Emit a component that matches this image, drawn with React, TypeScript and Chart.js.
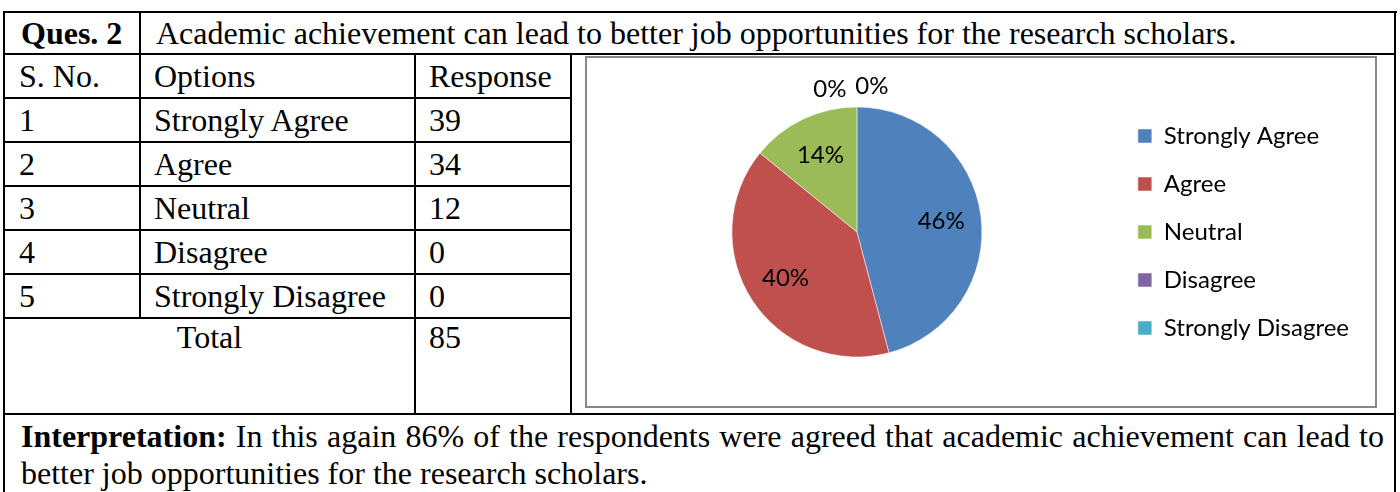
import React, { useEffect, useRef } from 'react';
import { Chart, registerables } from 'chart.js';

Chart.register(...registerables);

const questionNumber = 'Ques. 2';
const questionText = 'Academic achievement can lead to better job opportunities for the research scholars.';
const headers = ['S. No.', 'Options', 'Response'];
const serialNumbers = [1, 2, 3, 4, 5];
const optionLabels = ['Strongly Agree', 'Agree', 'Neutral', 'Disagree', 'Strongly Disagree'];
const responses = [39, 34, 12, 0, 0];
const sliceColors = ['#4F81BD', '#C0504D', '#9BBB59', '#8064A2', '#4BACC6'];
const totalLabel = 'Total';
const interpretationLead = 'Interpretation:';
const interpretationText =
  ' In this again 86% of the respondents were agreed that academic achievement can lead to better job opportunities for the research scholars.';

const SERIF = '"Liberation Serif", "Times New Roman", serif';
const SANS = 'Lato, "Open Sans", sans-serif';

const pieLabels = {
  id: 'pieLabels',
  afterDatasetsDraw(chart: any) {
    const ctx = chart.ctx;
    const meta = chart.getDatasetMeta(0);
    const data = chart.data.datasets[0].data as number[];
    const total = data.reduce((a, b) => a + b, 0);
    const zeroIdx = data.map((v, i) => (v === 0 ? i : -1)).filter((i) => i >= 0);
    ctx.save();
    ctx.font = '24px ' + SANS;
    ctx.fillStyle = '#000';
    ctx.textAlign = 'center';
    ctx.textBaseline = 'middle';
    meta.data.forEach((arc: any, i: number) => {
      const { x, y, startAngle, endAngle, outerRadius } = arc.getProps(
        ['x', 'y', 'startAngle', 'endAngle', 'outerRadius'],
        true
      );
      const mid = (startAngle + endAngle) / 2;
      const pct = Math.round((data[i] / total) * 100) + '%';
      let lx: number;
      let ly: number;
      if (data[i] === 0) {
        const k = zeroIdx.indexOf(i);
        lx = x + Math.cos(mid) * (outerRadius + 18) + (k - (zeroIdx.length - 1) / 2) * 42 - 6;
        ly = y + Math.sin(mid) * (outerRadius + 18) - k * 3;
      } else {
        const r = outerRadius * 0.68;
        lx = x + Math.cos(mid) * r;
        ly = y + Math.sin(mid) * r;
      }
      ctx.fillText(pct, lx, ly);
    });
    ctx.restore();
  },
};

function PieChart() {
  const ref = useRef<HTMLCanvasElement | null>(null);
  useEffect(() => {
    if (!ref.current) return;
    const chart = new Chart(ref.current, {
      type: 'pie',
      data: {
        labels: optionLabels,
        datasets: [
          {
            data: responses,
            backgroundColor: sliceColors,
            borderColor: 'rgba(255,255,255,0.5)',
            borderWidth: 1,
            radius: 125,
          } as any,
        ],
      },
      options: {
        animation: false,
        responsive: true,
        maintainAspectRatio: false,
        layout: { padding: { left: 13, right: 16, top: 0, bottom: 0 } },
        plugins: {
          tooltip: { enabled: false },
          legend: {
            position: 'right',
            align: 'center',
            labels: {
              boxWidth: 14,
              boxHeight: 14,
              padding: 24,
              color: '#000',
              font: { family: SANS, size: 24 },
            },
          },
        },
      },
      plugins: [pieLabels],
    });
    return () => chart.destroy();
  }, []);
  return <canvas ref={ref} />;
}

const line = (left: number, top: number, width: number, height: number, key: string, color = '#000') => (
  <div key={key} style={{ position: 'absolute', left, top, width, height, background: color }} />
);

export default function App() {
  const rowTops = [54, 98, 142, 186, 230, 274];
  const lines: React.ReactNode[] = [];
  lines.push(line(3, 11, 1394, 2, 'top'));
  lines.push(line(3, 11, 2, 481, 'left'));
  lines.push(line(1394, 11, 2, 481, 'right'));
  lines.push(line(3, 53, 1393, 2, 'h54'));
  lines.push(line(3, 413, 1393, 2, 'h414'));
  [98, 142, 186, 230, 274, 318].forEach((y) => lines.push(line(3, y - 1, 569, 2, 'h' + y)));
  lines.push(line(139, 11, 2, 308, 'v140'));
  lines.push(line(414, 53, 2, 362, 'v415'));
  lines.push(line(570, 53, 2, 362, 'v571'));

  const cellText = (text: string | number, left: number, top: number, key: string, extra: any = {}) => (
    <div
      key={key}
      style={{
        position: 'absolute',
        left,
        top,
        height: 44,
        lineHeight: '44px',
        fontFamily: SERIF,
        fontSize: 32,
        color: '#000',
        whiteSpace: 'nowrap',
        ...extra,
      }}
    >
      {text}
    </div>
  );

  const texts: React.ReactNode[] = [];
  texts.push(cellText(questionNumber, 21, 11, 'qn', { fontWeight: 'bold' }));
  texts.push(cellText(questionText, 156, 11, 'qt'));
  texts.push(cellText(headers[0], 19, rowTops[0], 'h0'));
  texts.push(cellText(headers[1], 154, rowTops[0], 'h1'));
  texts.push(cellText(headers[2], 429, rowTops[0], 'h2'));
  serialNumbers.forEach((n, i) => {
    const top = rowTops[i + 1];
    texts.push(cellText(n, 19, top, 's' + i));
    texts.push(cellText(optionLabels[i], 154, top, 'o' + i));
    texts.push(cellText(responses[i], 429, top, 'r' + i));
  });
  const total = responses.reduce((a, b) => a + b, 0);
  texts.push(cellText(totalLabel, 4, 315, 'tl', { width: 411, textAlign: 'center' }));
  texts.push(cellText(total, 429, 315, 'tv'));

  return (
    <div
      style={{
        position: 'absolute',
        left: 0,
        top: 0,
        width: 1400,
        height: 492,
        overflow: 'hidden',
        background: '#fff',
      }}
    >
      {lines}
      {texts}
      <div
        style={{
          position: 'absolute',
          left: 585,
          top: 56,
          width: 792,
          height: 352,
          border: '2px solid #888',
          boxSizing: 'border-box',
        }}
      />
      <div style={{ position: 'absolute', left: 587, top: 58, width: 788, height: 348 }}>
        <PieChart />
      </div>
      <div
        style={{
          position: 'absolute',
          left: 21,
          top: 418,
          width: 1363,
          fontFamily: SERIF,
          fontSize: 32,
          lineHeight: '37px',
          textAlign: 'justify',
          color: '#000',
        }}
      >
        <b>{interpretationLead}</b>
        {interpretationText}
      </div>
    </div>
  );
}
